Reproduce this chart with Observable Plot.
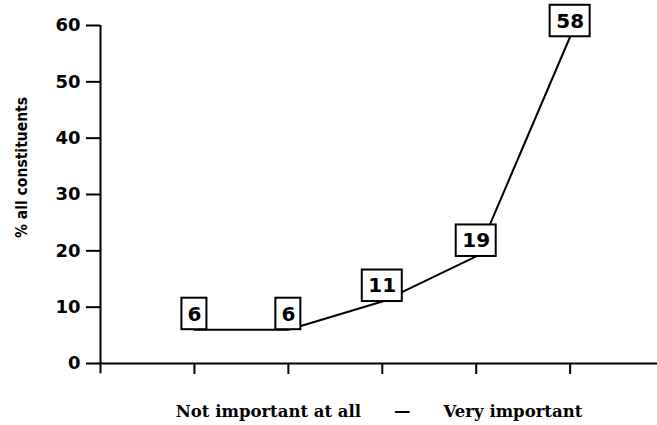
<!DOCTYPE html>
<html>
<head>
<meta charset="utf-8">
<script src="https://cdn.jsdelivr.net/npm/d3@7"></script>
<script src="https://cdn.jsdelivr.net/npm/@observablehq/plot@0.6"></script>
<style>
  html, body { margin: 0; padding: 0; background: white; }
</style>
</head>
<body>
<div id="chart"></div>
<script>
const categories = [1, 2, 3, 4, 5];
const values = [6, 6, 11, 19, 58];
const valueLabels = ["6", "6", "11", "19", "58"];
const yTicks = [0, 10, 20, 30, 40, 50, 60];
const xTicks = [1, 2, 3, 4, 5];
const yLabel = "% all constituents";
const caption = "Not important at all\u2003\u2003\u2014\u2003\u2003Very important";

const data = categories.map((c, i) => ({x: c, v: values[i], label: valueLabels[i]}));

// box half-width in x units, height in y units (derived from the scales' px per unit)
const pxPerX = (657 - 100) / 5.93;
const pxPerY = (363 - 25) / 60;
const halfW = d => (d.label.length === 1 ? 12.5 : 20) / pxPerX;
const boxH = 31.5 / pxPerY;

const chart = Plot.plot({
  width: 657,
  height: 425,
  marginLeft: 100,
  marginRight: 0,
  marginTop: 25,
  marginBottom: 62,
  x: {domain: [0, 5.93]},
  y: {domain: [0, 60]},
  style: {fontFamily: "DejaVu Sans", background: "white", color: "black"},
  marks: [
    Plot.ruleY([0], {strokeWidth: 2}),
    Plot.ruleX([0], {y1: -1.8, y2: 60, strokeWidth: 2}),
    Plot.axisY(yTicks, {tickSize: 14, tickPadding: 6, fontSize: 18, fontWeight: "bold", label: null, strokeWidth: 2}),
    Plot.axisX(xTicks, {tickSize: 11, tickFormat: () => "", label: null, strokeWidth: 2}),
    Plot.line(data, {x: "x", y: "v", stroke: "black", strokeWidth: 2}),
    Plot.rect(data, {
      x1: d => d.x - halfW(d), x2: d => d.x + halfW(d),
      y1: "v", y2: d => d.v + boxH,
      fill: "white", stroke: "black", strokeWidth: 2
    }),
    Plot.text(data, {x: "x", y: "v", text: "label", dy: -15.5, fontSize: 20, fontWeight: "bold", fill: "black"}),
    Plot.text([yLabel], {frameAnchor: "left", y: () => 34.8, dx: -78, rotate: -90, textAnchor: "middle", fontSize: 15.5, fontWeight: "bold", fontFamily: "DejaVu Sans Condensed"}),
    Plot.text([caption], {frameAnchor: "bottom", dy: 53, fontSize: 16.5, fontWeight: "bold", fontFamily: "DejaVu Serif"})
  ]
});
document.getElementById("chart").appendChild(chart);
</script>
</body>
</html>
